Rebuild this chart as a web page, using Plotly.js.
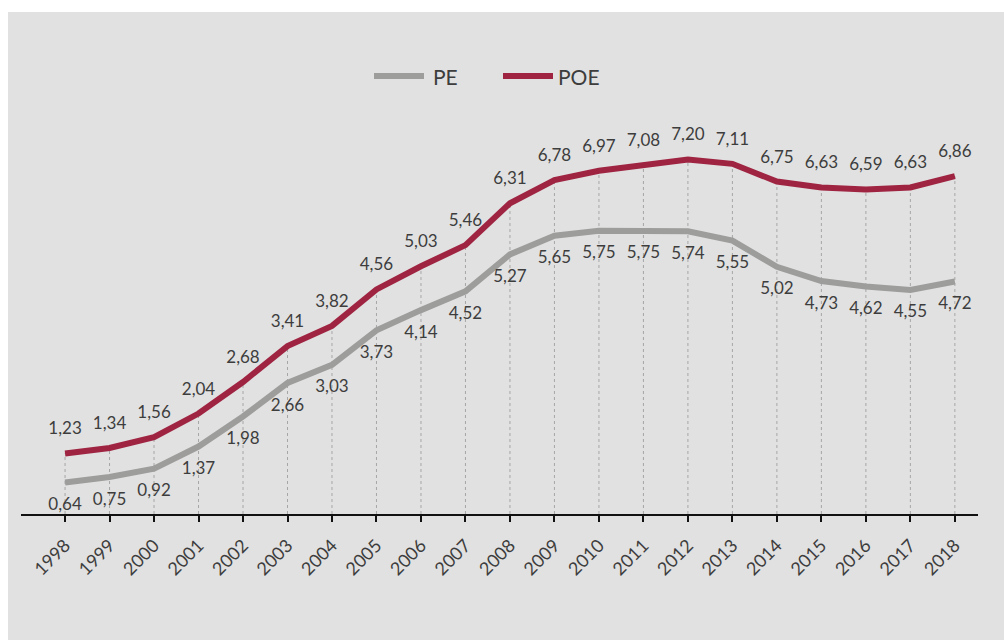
<!DOCTYPE html>
<html><head><meta charset="utf-8">
<script src="https://cdn.plot.ly/plotly-3.0.1.min.js"></script>
<style>html,body{margin:0;padding:0;background:#fff;}#chart{position:absolute;left:8px;top:12px;width:996px;height:628px;}</style>
</head><body><div id="chart"></div>
<script>
const years = [1998,1999,2000,2001,2002,2003,2004,2005,2006,2007,2008,2009,2010,2011,2012,2013,2014,2015,2016,2017,2018];
const pe  = [0.64,0.75,0.92,1.37,1.98,2.66,3.03,3.73,4.14,4.52,5.27,5.65,5.75,5.75,5.74,5.55,5.02,4.73,4.62,4.55,4.72];
const poe = [1.23,1.34,1.56,2.04,2.68,3.41,3.82,4.56,5.03,5.46,6.31,6.78,6.97,7.08,7.20,7.11,6.75,6.63,6.59,6.63,6.86];
const seriesNames = ['PE','POE'];
const tickLabels = years.map(String);

const GRAY = '#9d9d9c', RED = '#9f2442', TXT = '#3d3d3d', FONT = 'Lato, "Open Sans", sans-serif';

const traces = [
  {x: years, y: pe, name: seriesNames[0], mode: 'lines+markers+text', line: {color: GRAY, width: 6},
   marker: {size: 22, opacity: 0, color: GRAY}, texttemplate: '%{y:.2f}', textposition: 'bottom center',
   textfont: {family: FONT, size: 17, color: TXT}, hoverinfo: 'skip', cliponaxis: false},
  {x: years, y: poe, name: seriesNames[1], mode: 'lines+markers+text', line: {color: RED, width: 6},
   marker: {size: 22, opacity: 0, color: RED}, texttemplate: '%{y:.2f}', textposition: 'top center',
   textfont: {family: FONT, size: 17, color: TXT}, hoverinfo: 'skip', cliponaxis: false}
];

const shapes = years.map((yr, i) => ({type: 'line', xref: 'x', yref: 'y', x0: yr, x1: yr, y0: 0, y1: poe[i],
  line: {color: '#a6a6a6', width: 1, dash: 'dot'}, layer: 'below'}));
// custom legend
shapes.push({type: 'line', xref: 'paper', yref: 'paper', x0: (374-21)/957, x1: (424-21)/957, y0: (514-76)/394, y1: (514-76)/394, line: {color: GRAY, width: 6}});
shapes.push({type: 'line', xref: 'paper', yref: 'paper', x0: (503-21)/957, x1: (553-21)/957, y0: (514-76)/394, y1: (514-76)/394, line: {color: RED, width: 6}});

const annotations = [
  {xref: 'paper', yref: 'paper', x: (431-21)/957, y: (514-76)/394, xanchor: 'left', yanchor: 'middle', text: seriesNames[0], showarrow: false, font: {family: FONT, size: 21, color: TXT}},
  {xref: 'paper', yref: 'paper', x: (556-21)/957, y: (514-76)/394, xanchor: 'left', yanchor: 'middle', text: seriesNames[1], showarrow: false, font: {family: FONT, size: 21, color: TXT}}
];

const layout = {
  width: 996, height: 628,
  paper_bgcolor: '#e1e1e1', plot_bgcolor: '#e1e1e1',
  margin: {l: 13, r: 26, t: 108, b: 126},
  separators: ',.',
  showlegend: false,
  xaxis: {range: [1997.01, 2018.52], tickvals: years, ticktext: tickLabels, tickangle: -45,
    ticks: 'outside', ticklen: 6, tickwidth: 2, tickcolor: '#111', showline: true, linecolor: '#111', linewidth: 2,
    ticklabelstandoff: 6,
    showgrid: false, zeroline: false, fixedrange: true,
    tickfont: {family: FONT, size: 18, color: TXT}},
  yaxis: {range: [0, 8], visible: false, showgrid: false, zeroline: false, fixedrange: true},
  shapes: shapes,
  annotations: annotations,
  font: {family: FONT, color: TXT}
};

Plotly.newPlot('chart', traces, layout, {displayModeBar: false, staticPlot: true});
</script></body></html>
